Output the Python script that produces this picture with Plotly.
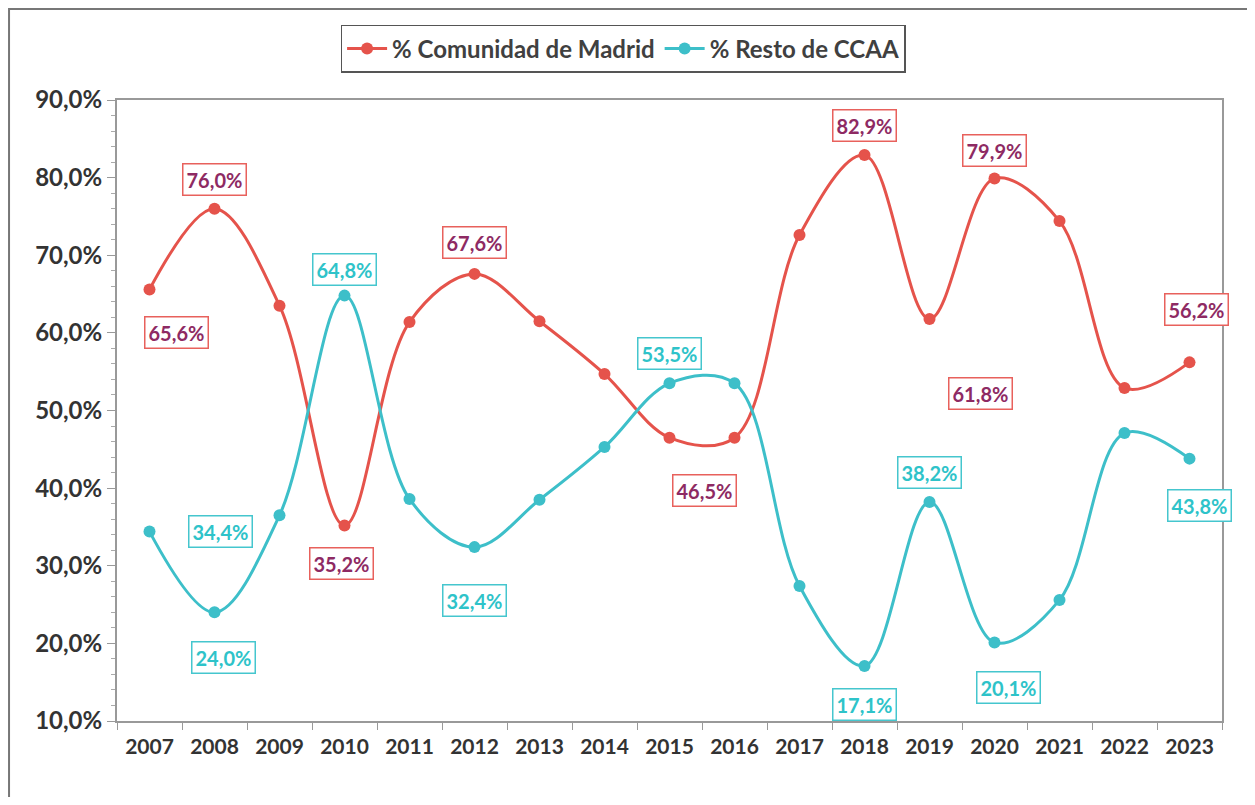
import plotly.graph_objects as go

# datos
years = list(range(2007, 2024))
madrid = [65.6, 76.0, 63.5, 35.2, 61.4, 67.6, 61.5, 54.7, 46.5, 46.5,
          72.6, 82.9, 61.8, 79.9, 74.4, 52.9, 56.2]
resto = [34.4, 24.0, 36.5, 64.8, 38.6, 32.4, 38.5, 45.3, 53.5, 53.5,
         27.4, 17.1, 38.2, 20.1, 25.6, 47.1, 43.8]
ytick_vals = [10, 20, 30, 40, 50, 60, 70, 80, 90]

# etiquetas visibles: (año, xshift, yshift)
lab_madrid = [(2007, 27, -43), (2008, 0, 29), (2010, -3, -38), (2012, 0, 31),
              (2015, 35, -53), (2018, 0, 30), (2019, 51, -75), (2020, 0, 28),
              (2023, 7, 53)]
lab_resto = [(2007, 71, 0), (2008, 9, -45), (2010, 0, 26), (2012, 0, -53),
             (2015, 0, 30), (2018, 0, -39), (2019, 0, 30), (2020, 14, -45),
             (2023, 10, -47)]

rojo = "#E5534B"
turq = "#3DBFC9"
fnt = "Lato"

def fmt(v):
    return f"{v:.1f}%".replace(".", ",")

fig = go.Figure()
fig.add_trace(go.Scatter(x=years, y=madrid, name="% Comunidad de Madrid",
                         mode="lines+markers", line=dict(color=rojo, width=3, shape="spline", smoothing=1),
                         marker=dict(size=12, color=rojo)))
fig.add_trace(go.Scatter(x=years, y=resto, name="% Resto de CCAA",
                         mode="lines+markers", line=dict(color=turq, width=3, shape="spline", smoothing=1),
                         marker=dict(size=12, color=turq)))

for serie, labs, tc, bc in [(madrid, lab_madrid, "#8E2A63", "#E8615C"),
                            (resto, lab_resto, "#2EC3C9", "#45C6CE")]:
    for yr, dx, dy in labs:
        v = serie[years.index(yr)]
        fig.add_annotation(x=yr, y=v, text=fmt(v), showarrow=False, xshift=dx, yshift=dy,
                           font=dict(family=fnt, size=20, color=tc, weight="bold"), bgcolor="white",
                           bordercolor=bc, borderwidth=1.5, borderpad=3)

# marco exterior
fig.add_shape(type="rect", xref="paper", yref="paper", x0=-0.0977, x1=1.2, y0=-0.3, y1=1.1465,
              line=dict(color="#777777", width=2))

fig.update_layout(
    width=1239, height=789,
    margin=dict(l=109, r=25, t=92, b=76),
    paper_bgcolor="white", plot_bgcolor="white",
    font=dict(family=fnt, color="#404040"),
    showlegend=True,
    legend=dict(orientation="h", x=0.458, xanchor="center", y=1.1208, yanchor="top",
                font=dict(family=fnt, size=24, color="#404040", weight="bold"),
                bordercolor="#555555", borderwidth=1.5, bgcolor="white",
                itemwidth=40),
)
fig.update_xaxes(range=[2006.5, 2023.5], tickvals=years, ticks="", ticklabelstandoff=6,
                 minor=dict(tick0=2006.5, dtick=1, ticks="outside", ticklen=7, tickcolor="#999999"),
                 showline=True, linecolor="#999999", linewidth=2,
                 mirror=True, showgrid=False, zeroline=False,
                 tickfont=dict(family=fnt, size=21, color="#333333", weight="bold"))
fig.update_yaxes(range=[10, 90], tickvals=ytick_vals, ticktext=[fmt(v) for v in ytick_vals],
                 ticks="outside", ticklen=8, tickcolor="#999999",
                 minor=dict(ticks="outside", dtick=2, ticklen=4, tickcolor="#aaaaaa"),
                 showline=True, linecolor="#999999", linewidth=2, mirror=True, showgrid=False,
                 zeroline=False,
                 tickfont=dict(family=fnt, size=24, color="#333333", weight="bold"))

fig.write_html("out.html")
